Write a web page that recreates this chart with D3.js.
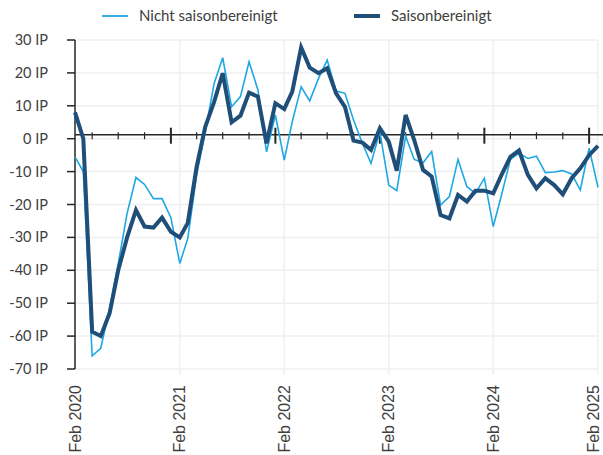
<!DOCTYPE html>
<html>
<head>
<meta charset="utf-8">
<script src="https://cdn.jsdelivr.net/npm/d3@7"></script>
<style>
  body { margin: 0; background: #fff; }
  svg { display: block; }
</style>
</head>
<body>
<div id="chart"></div>
<script>
// Monthly values, Feb 2020 .. Feb 2025
const startMonth = new Date(2020, 1, 1);
const seriesNames = ["Nicht saisonbereinigt", "Saisonbereinigt"];
const nichtSaisonbereinigt = [
  -5.5, -10, -66, -63.7, -51.5, -38, -22.7, -11.8, -13.9, -18.2, -18.2, -24,
  -37.9, -30.3, -11, 2.1, 16.8, 24.6, 9.7, 12.8, 23.4, 14.8, -4, 7.2,
  -6.5, 5.2, 15.8, 11.5, 18.4, 23.9, 14.5, 13.8, 5.7, -1.4, -7.5, 2.1,
  -14.1, -15.8, 0.8, -6.3, -7.3, -3.9, -20.2, -17.6, -6.3, -14.6, -16.6, -12,
  -26.7, -17.1, -6.3, -4.4, -6, -5.3, -10.3, -10.1, -9.7, -10.7, -15.6, -2.9,
  -14.8
];
const saisonbereinigt = [
  8, 0, -58.7, -60, -53, -40, -30, -21.7, -26.7, -27, -24, -28.3,
  -30, -25.6, -8.5, 3.6, 11.2, 19.9, 5, 7, 14, 12.8, -1.4, 10.8,
  9, 14.3, 27.7, 21.6, 19.9, 21.4, 13.8, 9.7, -0.6, -1.2, -3.4, 3.2,
  -0.9, -9.7, 7.2, -0.4, -9.5, -11.5, -23.2, -24.2, -17.1, -19.1, -15.8, -15.8,
  -16.6, -11, -5.5, -3.6, -11, -15.1, -12, -14.1, -16.9, -12, -9, -5,
  -2.2
];
const yTicks = [30, 20, 10, 0, -10, -20, -30, -40, -50, -60, -70];
const xLabelYears = [2020, 2021, 2022, 2023, 2024, 2025];

const width = 603, height = 455;
const margin = { top: 40, right: 5, bottom: 86, left: 75 };
const lightBlue = "#1ea7e4";
const darkBlue = "#1f4e79";
const axisColor = "#262626";
const textColor = "#404040";
const labelFont = "'Century Gothic', Lato, 'Noto Sans', sans-serif";

const svg = d3.select("#chart").append("svg")
  .attr("width", width)
  .attr("height", height);

const months = nichtSaisonbereinigt.map((d, i) => d3.timeMonth.offset(startMonth, i));
const endMonth = months[months.length - 1];

const x = d3.scaleTime()
  .domain([startMonth, endMonth])
  .range([margin.left, width - margin.right]);

const y = d3.scaleLinear()
  .domain([-70, 30])
  .range([height - margin.bottom, margin.top]);

// gridlines
const grid = svg.append("g").attr("class", "grid");
grid.selectAll("line.h")
  .data(yTicks)
  .enter().append("line")
  .attr("class", "h")
  .attr("x1", x.range()[0])
  .attr("x2", x.range()[1])
  .attr("y1", d => y(d))
  .attr("y2", d => y(d))
  .attr("stroke", "#efefef")
  .attr("stroke-width", 1.5);

grid.selectAll("line.v")
  .data(xLabelYears.slice(1))
  .enter().append("line")
  .attr("class", "v")
  .attr("x1", d => x(new Date(d, 1, 1)))
  .attr("x2", d => x(new Date(d, 1, 1)))
  .attr("y1", y(30))
  .attr("y2", y(-70) + 6)
  .attr("stroke", "#efefef")
  .attr("stroke-width", 1.5);

// y axis
const yAxis = svg.append("g");
yAxis.append("line")
  .attr("x1", margin.left).attr("x2", margin.left)
  .attr("y1", y(30)).attr("y2", y(-70))
  .attr("stroke", axisColor).attr("stroke-width", 1.5);
yAxis.selectAll("line.tick")
  .data(yTicks)
  .enter().append("line")
  .attr("class", "tick")
  .attr("x1", margin.left - 8).attr("x2", margin.left)
  .attr("y1", d => y(d)).attr("y2", d => y(d))
  .attr("stroke", axisColor).attr("stroke-width", 1.5);
yAxis.selectAll("text")
  .data(yTicks)
  .enter().append("text")
  .attr("x", 48)
  .attr("y", d => y(d))
  .attr("dy", "0.35em")
  .attr("text-anchor", "end")
  .style("font-family", labelFont)
  .style("font-size", "14.5px")
  .style("fill", textColor)
  .text(d => d + " IP");

// horizontal category axis near zero, quarterly ticks
const axisY = y(0) - 4;
const xAxis = svg.append("g");
xAxis.append("line")
  .attr("x1", margin.left).attr("x2", width)
  .attr("y1", axisY).attr("y2", axisY)
  .attr("stroke", axisColor).attr("stroke-width", 1.5);

const quarterTicks = d3.timeMonth.every(3).range(startMonth, d3.timeMonth.offset(endMonth, 1))
  .filter(d => d > startMonth);
xAxis.selectAll("line.tick")
  .data(quarterTicks)
  .enter().append("line")
  .attr("class", "tick")
  .attr("x1", d => x(d)).attr("x2", d => x(d))
  .attr("y1", d => d.getMonth() === 0 ? axisY - 7 : axisY - 2.5)
  .attr("y2", d => d.getMonth() === 0 ? axisY + 9 : axisY + 4.5)
  .attr("stroke", axisColor)
  .attr("stroke-width", d => d.getMonth() === 0 ? 2 : 1.2);

// year labels along the bottom (last one nudged in so it stays on the page)
svg.append("g").selectAll("text")
  .data(xLabelYears)
  .enter().append("text")
  .attr("transform", d => `translate(${Math.min(x(new Date(d, 1, 1)), width - 10)},${y(-70) + 16}) rotate(-90)`)
  .attr("dy", "0.35em")
  .attr("text-anchor", "end")
  .style("font-family", "'Liberation Sans', Arial, sans-serif")
  .style("font-size", "16px")
  .style("fill", textColor)
  .text(d => "Feb " + d);

// lines
const line = d3.line()
  .x((d, i) => x(months[i]))
  .y(d => y(d));

svg.append("path")
  .datum(nichtSaisonbereinigt)
  .attr("d", line)
  .attr("fill", "none")
  .attr("stroke", lightBlue)
  .attr("stroke-width", 1.6);

svg.append("path")
  .datum(saisonbereinigt)
  .attr("d", line)
  .attr("fill", "none")
  .attr("stroke", darkBlue)
  .attr("stroke-width", 4);

// legend
const legendItems = [
  { name: seriesNames[0], color: lightBlue, w: 1.8, x: 102 },
  { name: seriesNames[1], color: darkBlue, w: 4, x: 354 }
];
const legend = svg.append("g").selectAll("g")
  .data(legendItems)
  .enter().append("g")
  .attr("transform", d => `translate(${d.x},16)`);
legend.append("line")
  .attr("x1", 0).attr("x2", 26)
  .attr("stroke", d => d.color)
  .attr("stroke-width", d => d.w);
legend.append("text")
  .attr("x", 37)
  .attr("dy", "0.35em")
  .style("font-family", labelFont)
  .style("font-size", "15px")
  .style("fill", textColor)
  .text(d => d.name);
</script>
</body>
</html>
